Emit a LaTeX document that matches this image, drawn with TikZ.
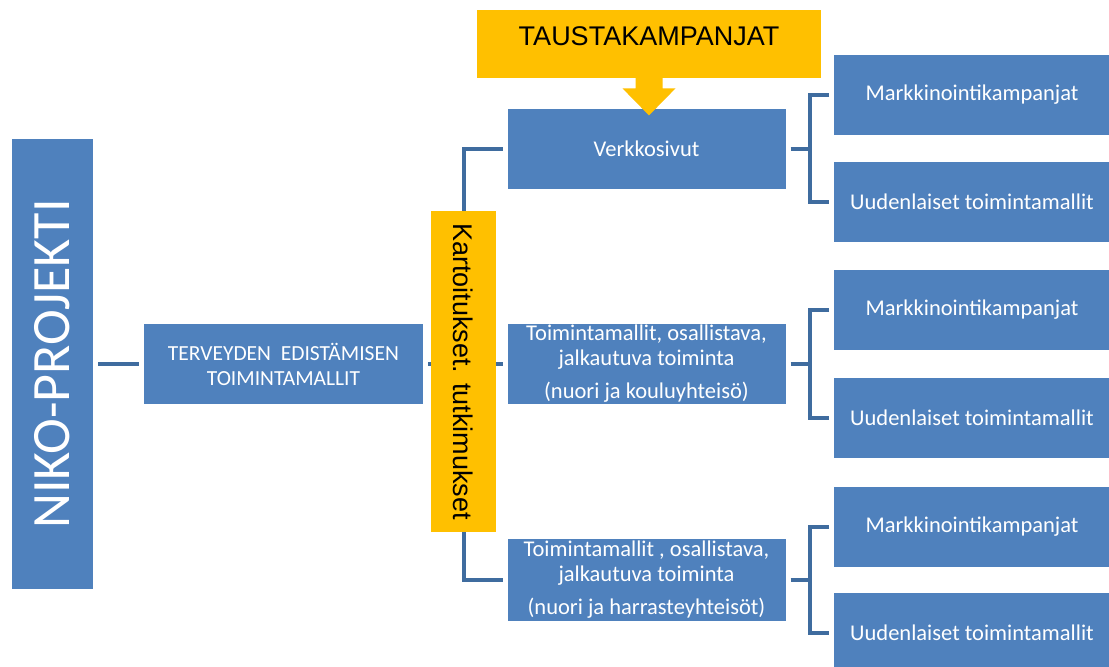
\documentclass[tikz,border=0pt]{standalone}
\usepackage{fontspec}
\setmainfont{Carlito}
\newfontfamily\arialfont{Liberation Sans}

\definecolor{boxblue}{HTML}{4F81BD}
\definecolor{linkblue}{HTML}{3F6C9F}
\definecolor{campyellow}{HTML}{FFC000}

\tikzset{
	bluebox/.style = {rectangle, fill=boxblue, text=white, inner sep=0pt, outer sep=5pt,
		minimum width=278pt, minimum height=80pt, align=center,
		font=\fontsize{22.5}{25}\selectfont},
	sidebox/.style = {bluebox, minimum width=276pt},
	yellowbox/.style = {rectangle, fill=campyellow, text=black, inner sep=0pt,
		font=\arialfont\fontsize{27}{30}\selectfont},
	link/.style = {draw=linkblue, line width=4pt}
}

\begin{document}
\begin{tikzpicture}[x=1pt, y=-1pt]
		\path [use as bounding box, clip] (0,0) rectangle (1109,667);
		\fill [white] (0,0) rectangle (1109,667);

		\node [bluebox, rotate=90, minimum width=450pt, minimum height=81pt, font=\fontsize{54}{60}\selectfont] (niko) at (52.5,364) {NIKO-PROJEKTI};
		\node [bluebox, minimum width=279pt, font=\fontsize{21.5}{25}\selectfont] (terv) at (283.5,364) {TERVEYDEN~~EDISTÄMISEN\\TOIMINTAMALLIT};

		\node [bluebox] (web) at (646.5,148.5) {Verkkosivut};
		\node [bluebox] (school) at (646.5,364) {Toimintamallit, osallistava,\\jalkautuva toiminta\\[8pt](nuori ja kouluyhteisö)};
		\node [bluebox, minimum height=82pt] (hobby) at (646.5,580) {Toimintamallit , osallistava,\\jalkautuva toiminta\\[8pt](nuori ja harrasteyhteisöt)};

		\node [sidebox] (web-a) at (972,95) {Markkinointikampanjat};
		\node [sidebox] (web-b) at (972,202) {Uudenlaiset toimintamallit};
		\node [sidebox] (school-a) at (972,309.5) {Markkinointikampanjat};
		\node [sidebox] (school-b) at (972,418) {Uudenlaiset toimintamallit};
		\node [sidebox] (hobby-a) at (972,526.5) {Markkinointikampanjat};
		\node [sidebox] (hobby-b) at (972,633) {Uudenlaiset toimintamallit};

		\coordinate (spine) at (463.5,364);

		\draw [link] (niko) -- (terv);
		\draw [link] (terv) -- (school);
		\draw [link] (web.west) -| (spine) |- (hobby.west);

		\draw [link] (web.east) -- ++(19.5,0);
		\draw [link] (web-a.west) -- ++(-19.5,0) |- (web-b.west);
		\draw [link] (school.east) -- ++(19.5,0);
		\draw [link] (school-a.west) -- ++(-19.5,0) |- (school-b.west);
		\draw [link] (hobby.east) -- ++(19.5,0);
		\draw [link] (hobby-a.west) -- ++(-19.5,0) |- (hobby-b.west);

		\node [yellowbox, rotate=-90, minimum width=321pt, minimum height=65pt] (study) at (463.5,371.5) {Kartoitukset. tutkimukset};
		\node [yellowbox, anchor=north, minimum width=344pt, text height=35pt, text depth=33pt] (camp) at (649,10) {TAUSTAKAMPANJAT};
		\fill [campyellow] (camp.south) ++(-13.5,-1) -- ++(0,11) -- ++(-13,0) -- ++(26.5,27)
			-- ++(26.5,-27) -- ++(-13,0) -- ++(0,-11) -- cycle;
	\end{tikzpicture}
\end{document}
